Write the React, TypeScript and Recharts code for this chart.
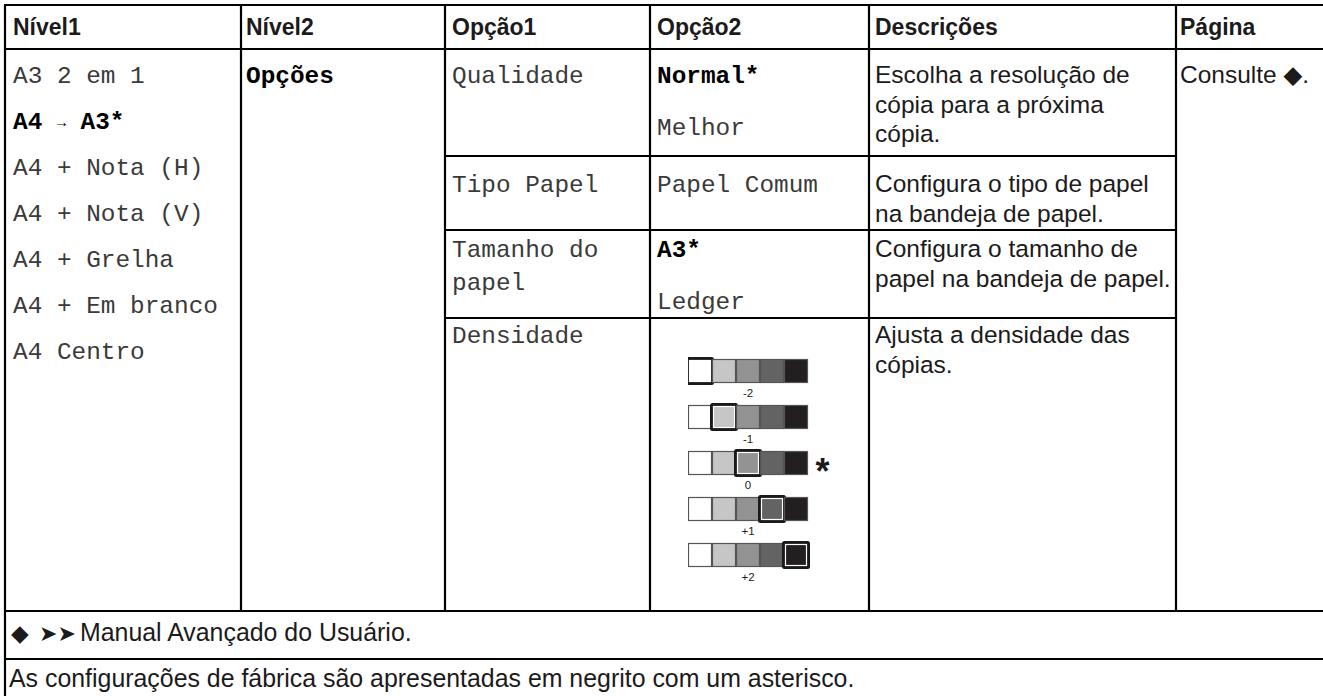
import React from 'react';
import { ScatterChart, Scatter, XAxis, YAxis } from 'recharts';

const headers = ['Nível1', 'Nível2', 'Opção1', 'Opção2', 'Descrições', 'Página'];

const nivel1Items = [
  { text: 'A3 2 em 1', bold: false },
  { text: 'A4 → A3*', bold: true },
  { text: 'A4 + Nota (H)', bold: false },
  { text: 'A4 + Nota (V)', bold: false },
  { text: 'A4 + Grelha', bold: false },
  { text: 'A4 + Em branco', bold: false },
  { text: 'A4 Centro', bold: false },
];

const nivel2Label = 'Opções';

const opcao1Rows = [['Qualidade'], ['Tipo Papel'], ['Tamanho do', 'papel'], ['Densidade']];

const opcao2Rows = [
  [{ text: 'Normal*', bold: true }, { text: 'Melhor', bold: false }],
  [{ text: 'Papel Comum', bold: false }],
  [{ text: 'A3*', bold: true }, { text: 'Ledger', bold: false }],
  [],
];

const descricoes = [
  ['Escolha a resolução de', 'cópia para a próxima', 'cópia.'],
  ['Configura o tipo de papel', 'na bandeja de papel.'],
  ['Configura o tamanho de', 'papel na bandeja de papel.'],
  ['Ajusta a densidade das', 'cópias.'],
];

const paginaText = 'Consulte ◆.';

const densityLevels = ['-2', '-1', '0', '+1', '+2'];
const densityShades = ['#ffffff', '#c6c6c6', '#939393', '#636363', '#231f20'];
const defaultLevel = '0';

const footerNote = 'Manual Avançado do Usuário.';
const footerDefaults = 'As configurações de fábrica são apresentadas em negrito com um asterisco.';

// layout
const W = 1323;
const H = 696;
const COLS = [5, 241, 445, 650, 869, 1176, 1326];
const TEXT_X = [13, 246, 452, 657, 875, 1180];
const HEADER_BOTTOM = 49;
const ROW_LINES = [156, 230, 318];
const BODY_BOTTOM = 611;
const FOOT_LINE = 659;
const TABLE_BOTTOM = 707;
const ROW_BASE = [83, 192, 257, 343];

const SANS = '"Liberation Sans", Arial, "DejaVu Sans", sans-serif';
const MONO = '"Liberation Mono", "Courier New", "DejaVu Sans Mono", monospace';
const INK = '#1c1a1b';
const MONO_INK = '#3a3a3a';

const cells = densityLevels.flatMap((lvl, li) =>
  densityShades.map((shade, si) => ({
    pos: si,
    level: li,
    shade,
    selected: si === li,
  }))
);
const levelLabels = densityLevels.map((lvl, li) => ({ pos: 2, level: li, label: lvl }));
const defaultMark = [{ pos: 5.1, level: densityLevels.indexOf(defaultLevel) }];

const DensityCell = (props: any) => {
  const { cx, cy, payload } = props;
  const s = 23;
  if (payload.selected) {
    return (
      <g>
        <rect x={cx - 14} y={cy - 14} width={28} height={28} rx={2.5} fill="#1a1a1a" />
        <rect x={cx - 10.5} y={cy - 10.5} width={21} height={21} fill={payload.shade} stroke="#ffffff" strokeWidth={1.2} />
      </g>
    );
  }
  return (
    <rect x={cx - s / 2} y={cy - s / 2} width={s} height={s} fill={payload.shade} stroke="#555" strokeWidth={1.2} />
  );
};

const LevelLabel = (props: any) => {
  const { cx, cy, payload } = props;
  return (
    <text x={cx} y={cy + 26} textAnchor="middle" fontFamily={SANS} fontSize={11.5} fill="#222">
      {payload.label}
    </text>
  );
};

const DefaultStar = (props: any) => {
  const { cx, cy } = props;
  return (
    <text x={cx} y={cy + 21} textAnchor="middle" fontFamily={SANS} fontWeight="bold" fontSize={36} fill={INK}>
      *
    </text>
  );
};

const DensityChart = () => (
  <ScatterChart width={156} height={253} margin={{ top: 0, right: 0, bottom: 0, left: 0 }}>
    <XAxis type="number" dataKey="pos" domain={[-0.5, 6]} hide />
    <YAxis type="number" dataKey="level" domain={[-0.5, 5]} reversed hide />
    <Scatter data={cells} shape={DensityCell} isAnimationActive={false} />
    <Scatter data={levelLabels} shape={LevelLabel} isAnimationActive={false} />
    <Scatter data={defaultMark} shape={DefaultStar} isAnimationActive={false} />
  </ScatterChart>
);

const Line = ({ x1, y1, x2, y2 }: any) => (
  <line x1={x1} y1={y1} x2={x2} y2={y2} stroke="#000" strokeWidth={2.2} />
);

export default function App() {
  return (
    <div style={{ position: 'fixed', left: 0, top: 0, width: W, height: H, overflow: 'hidden', background: '#fff' }}>
      <svg width={W} height={H} style={{ position: 'absolute', left: 0, top: 0 }}>
        {/* grid */}
        <Line x1={COLS[0] - 1} y1={5} x2={COLS[6]} y2={5} />
        <Line x1={COLS[0]} y1={HEADER_BOTTOM} x2={COLS[6]} y2={HEADER_BOTTOM} />
        {ROW_LINES.map((y) => (
          <Line key={y} x1={COLS[2]} y1={y} x2={COLS[5]} y2={y} />
        ))}
        <Line x1={COLS[0]} y1={BODY_BOTTOM} x2={COLS[6]} y2={BODY_BOTTOM} />
        <Line x1={COLS[0]} y1={FOOT_LINE} x2={COLS[6]} y2={FOOT_LINE} />
        <Line x1={COLS[0]} y1={TABLE_BOTTOM} x2={COLS[6]} y2={TABLE_BOTTOM} />
        <Line x1={COLS[0]} y1={5} x2={COLS[0]} y2={TABLE_BOTTOM} />
        {COLS.slice(1, 6).map((x) => (
          <Line key={x} x1={x} y1={5} x2={x} y2={BODY_BOTTOM} />
        ))}

        {/* header */}
        {headers.map((h, i) => (
          <text key={h} x={TEXT_X[i]} y={35} fontFamily={SANS} fontWeight="bold" fontSize={23} fill={INK}>
            {h}
          </text>
        ))}

        {/* Nível1 */}
        {nivel1Items.map((item, i) => (
          <text
            key={item.text}
            x={TEXT_X[0]}
            y={ROW_BASE[0] + i * 46}
            fontFamily={MONO}
            fontWeight={item.bold ? 'bold' : 'normal'}
            fontSize={24.4}
            fill={item.bold ? '#000' : MONO_INK}
            xmlSpace="preserve"
          >
            {item.text.includes('→') ? (
              <>
                {item.text.split('→')[0]}
                <tspan fontSize={15} dy={-2}>→</tspan>
                <tspan dy={2}>{item.text.split('→')[1]}</tspan>
              </>
            ) : (
              item.text
            )}
          </text>
        ))}

        {/* Nível2 */}
        <text x={TEXT_X[1]} y={ROW_BASE[0]} fontFamily={MONO} fontWeight="bold" fontSize={24.4} fill="#000">
          {nivel2Label}
        </text>

        {/* Opção1 */}
        {opcao1Rows.map((lines, r) =>
          lines.map((t, k) => (
            <text key={t} x={TEXT_X[2]} y={ROW_BASE[r] + k * 33} fontFamily={MONO} fontSize={24.4} fill={MONO_INK} xmlSpace="preserve">
              {t}
            </text>
          ))
        )}

        {/* Opção2 */}
        {opcao2Rows.map((paras, r) =>
          paras.map((p, k) => (
            <text
              key={p.text}
              x={TEXT_X[3]}
              y={ROW_BASE[r] + k * 52}
              fontFamily={MONO}
              fontWeight={p.bold ? 'bold' : 'normal'}
              fontSize={24.4}
              fill={p.bold ? '#000' : MONO_INK}
              xmlSpace="preserve"
            >
              {p.text}
            </text>
          ))
        )}

        {/* Descrições */}
        {descricoes.map((lines, r) =>
          lines.map((t, k) => (
            <text key={r + '-' + k} x={TEXT_X[4]} y={ROW_BASE[r] + k * 29.5} fontFamily={SANS} fontSize={24.5} fill={INK}>
              {t}
            </text>
          ))
        )}

        {/* Página */}
        <text x={TEXT_X[5]} y={ROW_BASE[0]} fontFamily={SANS} fontSize={24.5} fill={INK}>
          {paginaText}
        </text>

        {/* footers */}
        <text y={641} fontFamily={SANS} fontSize={24.9} fill={INK}>
          <tspan x={11} fontSize={23}>◆</tspan>
          <tspan x={39} fontSize={22}>➤➤</tspan>
          <tspan x={80}>{footerNote}</tspan>
        </text>
        <text x={9} y={687} fontFamily={SANS} fontSize={24.9} fill={INK}>
          {footerDefaults}
        </text>
      </svg>
      <div style={{ position: 'absolute', left: 688, top: 348 }}>
        <DensityChart />
      </div>
    </div>
  );
}
